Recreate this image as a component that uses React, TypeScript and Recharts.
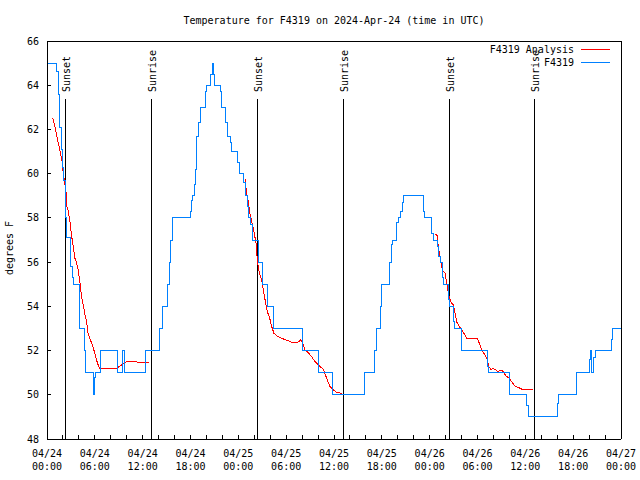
import React from 'react';
import { LineChart, Line, XAxis, YAxis, ReferenceLine, Legend } from 'recharts';

const FONT = '"DejaVu Sans Mono", monospace';

// F4319 observations: [hours since 04/24 00:00 UTC, degrees F], drawn as steps
const obsApr24 = [
    [0, 65], [1.22, 64.6], [1.38, 63.6], [1.51, 62.8], [1.63, 62.1], [1.82, 61.1], [1.97, 60.3],
    [2.13, 59.7], [2.26, 59.0], [2.32, 58.0], [2.47, 57.1], [2.89, 56.8], [3.01, 55.8], [3.17, 55.3],
    [3.3, 55.0], [4.05, 53.0], [4.68, 52.0], [4.85, 51.0], [5.77, 50.0], [5.96, 50.8], [6.08, 51.0],
    [6.77, 52.0], [8.82, 51.0], [9.45, 52.0], [9.78, 51.0], [12.36, 52.0], [14.17, 53.0], [14.49, 54.0],
    [15.14, 55.0], [15.34, 56.0], [15.52, 57.0], [15.77, 58.0], [18.03, 58.3], [18.15, 58.8],
    [18.28, 59.0], [18.48, 59.5], [18.6, 60.2], [18.69, 60.5], [18.78, 61.7], [18.98, 62.3],
    [19.28, 63.0], [19.82, 63.7], [20.03, 64.0], [20.53, 64.5], [20.7, 65.0], [20.89, 64.5],
    [21.07, 64.0], [21.74, 63.7], [21.95, 63.0], [22.37, 62.3], [22.7, 61.7], [22.96, 61.4],
    [23.17, 61.0], [23.87, 60.5],
];
const obsApr25 = [
    [24.12, 60.0], [24.71, 59.6], [24.87, 59.0], [25.13, 58.5], [25.28, 58.0], [25.55, 57.7],
    [25.8, 57.0], [26.51, 56.0], [27.01, 55.0], [27.63, 54.0], [28.39, 53.0], [31.99, 52.0],
    [34.03, 51.0], [35.84, 50.0], [39.8, 51.0], [41.11, 52.0], [41.36, 53.0], [41.77, 54.0],
    [41.99, 55.0], [42.94, 56.0], [43.15, 56.8], [43.36, 57.0], [43.87, 57.8], [44.15, 58.0],
    [44.37, 58.3], [44.57, 58.7], [44.66, 59.0], [47.2, 58.3], [47.38, 58.0],
];
const obsApr26 = [
    [48.26, 57.3], [48.46, 57.0], [48.96, 56.7], [49.08, 56.25], [49.3, 56.0], [49.55, 55.3],
    [49.71, 55.0], [50.34, 54.3], [50.46, 54.0], [50.97, 53.3], [51.09, 53.0], [51.97, 52.0],
    [55.28, 51.3], [55.44, 51.0], [57.99, 50.0], [60.17, 49.5], [60.37, 49.0], [64.01, 49.6],
    [64.19, 50.0], [66.36, 51.0], [68.03, 51.6], [68.2, 52.0], [68.36, 51.0], [68.53, 51.7],
    [68.83, 52.0], [70.83, 52.5], [70.96, 53.0], [72, 53.0],
];

// F4319 Analysis, three separate runs
const anaApr24 = [
    [0.63, 62.5], [0.79, 62.45], [1.09, 61.97], [1.42, 61.37], [1.72, 60.9], [1.92, 60.47],
    [2.04, 60.0], [2.38, 59.2], [2.51, 58.5], [2.67, 58.3], [2.89, 57.8], [3.1, 57.15], [3.3, 56.7],
    [3.51, 56.17], [3.73, 55.95], [3.93, 55.6], [4.14, 55.04], [4.35, 54.4], [4.55, 54.05],
    [4.77, 53.6], [4.98, 53.3], [5.14, 52.8], [5.31, 52.6], [5.61, 52.33], [5.9, 52.0], [6.23, 51.55],
    [6.56, 51.2], [8.74, 51.2], [9.16, 51.3], [9.78, 51.47], [10.41, 51.53], [11.04, 51.5],
    [11.67, 51.45], [12.29, 51.45], [12.83, 51.47],
];
const anaApr25 = [
    [24.84, 59.75], [25.05, 59.1], [25.25, 58.73], [25.46, 58.2], [25.68, 57.83], [25.97, 57.37],
    [26.22, 56.85], [26.38, 56.1], [26.63, 55.5], [26.93, 55.2], [27.13, 54.74], [27.35, 54.3],
    [27.63, 53.76], [27.89, 53.53], [28.19, 53.08], [28.47, 52.78], [28.81, 52.67], [29.44, 52.55],
    [29.85, 52.5], [30.27, 52.44], [30.69, 52.37], [31.32, 52.37], [31.67, 52.42], [31.82, 52.5],
    [32.07, 52.33], [32.36, 52.03], [32.78, 51.9], [33.2, 51.72], [33.62, 51.5], [34.03, 51.35],
    [34.66, 51.15], [35.09, 50.74], [35.5, 50.37], [35.91, 50.22], [36.34, 50.1], [36.97, 50.07],
];
const anaApr26 = [
    [48.67, 57.27], [48.96, 57.2], [49.08, 56.7], [49.3, 56.25], [49.51, 55.8], [49.71, 55.57],
    [49.92, 55.5], [50.14, 55.04], [50.34, 54.6], [50.64, 54.2], [50.97, 54.06], [51.18, 53.68],
    [51.39, 53.3], [51.72, 53.08], [52.02, 52.93], [52.43, 52.7], [52.65, 52.55], [53.98, 52.55],
    [54.23, 52.33], [54.53, 52.03], [54.82, 51.87], [55.16, 51.65], [55.44, 51.27], [55.7, 51.12],
    [55.91, 51.2], [56.32, 51.12], [56.61, 51.02], [56.82, 51.12], [57.16, 51.08], [57.58, 50.85],
    [57.99, 50.74], [58.42, 50.52], [58.71, 50.4], [59.12, 50.33], [59.75, 50.22], [60.95, 50.22],
];

const sunHours = [2.3, 13.08, 26.38, 37.17, 50.46, 61.13];
const sunLabels = ['Sunset', 'Sunrise', 'Sunset', 'Sunrise', 'Sunset', 'Sunrise'];

const xTicks = [0, 2, 4, 6, 8, 10, 12, 14, 16, 18, 20, 22, 24, 26, 28, 30, 32, 34, 36,
    38, 40, 42, 44, 46, 48, 50, 52, 54, 56, 58, 60, 62, 64, 66, 68, 70, 72];
const xLabelHours = [0, 6, 12, 18, 24, 30, 36, 42, 48, 54, 60, 66, 72];
const xLabelDates = ['04/24', '04/24', '04/24', '04/24', '04/25', '04/25', '04/25',
    '04/25', '04/26', '04/26', '04/26', '04/26', '04/27'];
const xLabelTimes = ['00:00', '06:00', '12:00', '18:00', '00:00', '06:00', '12:00',
    '18:00', '00:00', '06:00', '12:00', '18:00', '00:00'];
const yTicks = [48, 50, 52, 54, 56, 58, 60, 62, 64, 66];

const seriesNames = ['F4319 Analysis', 'F4319'];
const seriesColors = ['#ff0000', '#0080ff'];

const toRows = (pairs: number[][]) => pairs.map(([h, t]) => ({ h, t }));
const obsData = toRows([...obsApr24, ...obsApr25, ...obsApr26]);
const anaRuns = [anaApr24, anaApr25, anaApr26].map(toRows);

function HourTick(props: any) {
    const { x, y, payload } = props;
    const i = xLabelHours.indexOf(payload.value);
    if (i < 0) return <g />;
    return (
        <text textAnchor="middle" fontFamily={FONT} fontSize={10} fill="#000">
            <tspan x={x} y={y + 18}>{xLabelDates[i]}</tspan>
            <tspan x={x} y={y + 31}>{xLabelTimes[i]}</tspan>
        </text>
    );
}

const sunShape = (label: string) => (p: any) => {
    const top = Math.min(p.y1, p.y2);
    const bottom = Math.max(p.y1, p.y2);
    return (
        <g>
            <line x1={p.x1} x2={p.x1} y1={top + 58} y2={bottom} stroke="#000" strokeWidth={1} />
            <text transform={`translate(${p.x1 + 5},${top + 51}) rotate(-90)`}
                fontFamily={FONT} fontSize={10} fill="#000">{label}</text>
        </g>
    );
};

function KeyBox() {
    return (
        <div style={{ fontFamily: FONT, fontSize: 10, lineHeight: '13px', color: '#000' }}>
            {seriesNames.map((name, i) => (
                <div key={name} style={{ display: 'flex', justifyContent: 'flex-end', alignItems: 'center', height: 13 }}>
                    <span>{name}</span>
                    <svg width={36} height={13} style={{ display: 'block' }}>
                        <line x1={7} x2={36} y1={6.5} y2={6.5} stroke={seriesColors[i]} strokeWidth={1} />
                    </svg>
                </div>
            ))}
        </div>
    );
}

export default function App() {
    const tickFont = { fontFamily: FONT, fontSize: 10, fill: '#000' };
    return (
        <div className="chart" style={{ position: 'absolute', left: 0, top: 0, width: 640, height: 480, background: '#fff' }}>
            <style>{`.chart svg line, .chart svg path { shape-rendering: crispEdges; }`}</style>
            <div style={{ position: 'absolute', left: 0, top: 15, width: 668, textAlign: 'center', fontFamily: FONT, fontSize: 10, lineHeight: '12px' }}>
                Temperature for F4319 on 2024-Apr-24 (time in UTC)
            </div>
            <LineChart width={640} height={480} margin={{ top: 40, right: 18, left: 0, bottom: 0 }}>
                <XAxis xAxisId="b" dataKey="h" type="number" domain={[0, 72]} allowDataOverflow
                    ticks={xTicks} interval={0} tickSize={-4} tickMargin={4} height={41}
                    stroke="#000" tick={<HourTick />} />
                <XAxis xAxisId="t" orientation="top" type="number" domain={[0, 72]} allowDataOverflow
                    ticks={xTicks} interval={0} tickSize={-4} height={1} stroke="#000" tick={false} />
                <YAxis yAxisId="l" type="number" domain={[48, 66]} allowDataOverflow ticks={yTicks}
                    interval={0} tickSize={-4} tickMargin={12} width={47} stroke="#000" tick={tickFont}
                    label={{
                        content: (p: any) => {
                            const vb = p.viewBox;
                            return (
                                <text transform={`translate(${vb.x + 13},${vb.y + vb.height / 2 + 8}) rotate(-90)`}
                                    textAnchor="middle" fontFamily={FONT} fontSize={10} fill="#000">degrees F</text>
                            );
                        },
                    }} />
                <YAxis yAxisId="r" orientation="right" type="number" domain={[48, 66]} allowDataOverflow
                    ticks={yTicks} interval={0} tickSize={-4} width={1} stroke="#000" tick={false} />
                {sunHours.map((h, i) => (
                    <ReferenceLine key={h} xAxisId="b" yAxisId="l" x={h} shape={sunShape(sunLabels[i])} />
                ))}
                {anaRuns.map((run, i) => (
                    <Line key={i} xAxisId="b" yAxisId="l" data={run} dataKey="t" type="linear"
                        stroke={seriesColors[0]} strokeWidth={1} dot={false} activeDot={false}
                        isAnimationActive={false} name={seriesNames[0]} />
                ))}
                <Line xAxisId="b" yAxisId="l" data={obsData} dataKey="t" type="stepAfter"
                    stroke={seriesColors[1]} strokeWidth={1} dot={false} activeDot={false}
                    isAnimationActive={false} name={seriesNames[1]} />
                <Legend layout="vertical" align="center" verticalAlign="middle"
                    wrapperStyle={{ top: 43, right: 30, left: 'auto', width: 'auto', height: 'auto' }}
                    content={() => <KeyBox />} />
            </LineChart>
        </div>
    );
}
